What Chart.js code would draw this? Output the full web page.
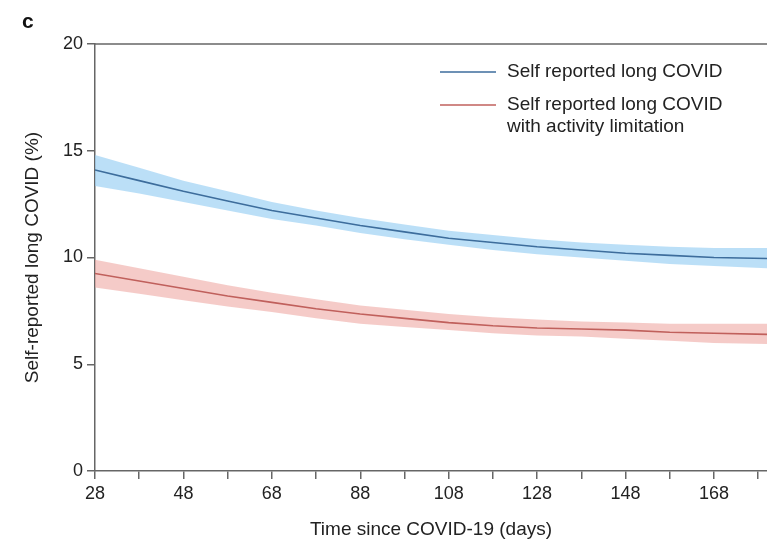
<!DOCTYPE html>
<html>
<head>
<meta charset="utf-8">
<script src="https://cdn.jsdelivr.net/npm/chart.js@4.4.1/dist/chart.umd.min.js"></script>
<style>
  html, body { margin: 0; padding: 0; background: #fff; }
  #wrap { position: relative; width: 767px; height: 543px; }
</style>
</head>
<body>
<div id="wrap"><canvas id="covidChart" width="767" height="543"></canvas></div>
<script>
// days since COVID-19
const days = [28, 38, 48, 58, 68, 78, 88, 98, 108, 118, 128, 138, 148, 158, 168, 180];

// self reported long COVID (%)
const longCovid      = [14.1, 13.6, 13.1, 12.65, 12.2, 11.85, 11.5, 11.2, 10.9, 10.7, 10.5, 10.35, 10.2, 10.1, 10.0, 9.95];
const longCovidUpper = [14.8, 14.2, 13.6, 13.1, 12.6, 12.2, 11.85, 11.55, 11.25, 11.05, 10.85, 10.7, 10.6, 10.5, 10.45, 10.45];
const longCovidLower = [13.35, 13.0, 12.6, 12.2, 11.8, 11.5, 11.15, 10.85, 10.6, 10.35, 10.15, 10.0, 9.85, 9.7, 9.6, 9.5];

// with activity limitation (%)
const limited      = [9.25, 8.9, 8.55, 8.2, 7.9, 7.6, 7.35, 7.15, 6.95, 6.8, 6.7, 6.65, 6.6, 6.5, 6.45, 6.4];
const limitedUpper = [9.9, 9.5, 9.1, 8.7, 8.35, 8.05, 7.75, 7.55, 7.35, 7.2, 7.1, 7.0, 6.95, 6.9, 6.9, 6.9];
const limitedLower = [8.6, 8.3, 8.0, 7.7, 7.45, 7.15, 6.9, 6.75, 6.6, 6.45, 6.35, 6.3, 6.2, 6.1, 6.0, 5.95];

const xTicks = [28, 38, 48, 58, 68, 78, 88, 98, 108, 118, 128, 138, 148, 158, 168, 178];
const yTicks = [0, 5, 10, 15, 20];

const legendItems = [
    { color: '#3d6d9c', lines: ['Self reported long COVID'] },
    { color: '#c0605c', lines: ['Self reported long COVID', 'with activity limitation'] }
];

const FONT = "'Liberation Sans', Arial, Helvetica, sans-serif";
const AXIS = '#666';

const pts = arr => days.map((d, i) => ({ x: d, y: arr[i] }));

const band = (data, color, fill) => ({
    data: pts(data),
    borderWidth: 0,
    pointRadius: 0,
    backgroundColor: color,
    fill: fill,
    order: 2
});

const line = (data, color) => ({
    data: pts(data),
    borderColor: color,
    borderWidth: 1.6,
    pointRadius: 0,
    fill: false,
    order: 1
});

// panel letter, top frame line and the two-line legend
const extras = {
    id: 'extras',
    afterDraw(chart) {
        const { ctx, chartArea } = chart;
        ctx.save();
        ctx.strokeStyle = AXIS;
        ctx.lineWidth = 1.5;
        ctx.beginPath();
        ctx.moveTo(chartArea.left, chartArea.top);
        ctx.lineTo(chartArea.right, chartArea.top);
        ctx.stroke();

        ctx.fillStyle = '#111';
        ctx.font = 'bold 21px ' + FONT;
        ctx.textBaseline = 'middle';
        ctx.fillText('c', 22, 22);

        ctx.font = '19px ' + FONT;
        ctx.fillStyle = '#222';
        let y = 72;
        legendItems.forEach(item => {
            ctx.strokeStyle = item.color;
            ctx.lineWidth = 1.5;
            ctx.beginPath();
            ctx.moveTo(440, y);
            ctx.lineTo(496, y);
            ctx.stroke();
            item.lines.forEach((t, k) => ctx.fillText(t, 507, y + k * 22));
            y += 33;
        });
        ctx.restore();
    }
};

new Chart(document.getElementById('covidChart'), {
    type: 'line',
    data: {
        datasets: [
            band(longCovidUpper, 'rgba(150, 206, 242, 0.65)', '+1'),
            band(longCovidLower, 'rgba(0,0,0,0)', false),
            band(limitedUpper, 'rgba(236, 160, 155, 0.55)', '+1'),
            band(limitedLower, 'rgba(0,0,0,0)', false),
            line(longCovid, '#3d6d9c'),
            line(limited, '#c0605c')
        ]
    },
    options: {
        responsive: false,
        animation: false,
        layout: { padding: { top: 44, right: 0, left: 0, bottom: 0 } },
        plugins: { legend: { display: false }, tooltip: { enabled: false } },
        scales: {
            x: {
                type: 'linear',
                min: 28,
                max: 180,
                afterBuildTicks: s => { s.ticks = xTicks.map(v => ({ value: v })); },
                afterFit: s => { s.height = 72; },
                grid: { drawOnChartArea: false, color: AXIS, tickLength: 8, lineWidth: 1.5 },
                border: { color: AXIS, width: 1.5 },
                ticks: {
                    autoSkip: false,
                    maxRotation: 0,
                    padding: 4,
                    color: '#222',
                    font: { family: FONT, size: 18 },
                    callback: v => ((v - 28) % 20 === 0 ? String(v) : '')
                },
                title: {
                    display: true,
                    text: 'Time since COVID-19 (days)',
                    color: '#222',
                    font: { family: FONT, size: 19 },
                    padding: { top: 0, bottom: 2 }
                }
            },
            y: {
                min: 0,
                max: 20,
                afterBuildTicks: s => { s.ticks = yTicks.map(v => ({ value: v })); },
                afterFit: s => { s.width = 95; },
                grid: { drawOnChartArea: false, color: AXIS, tickLength: 8, lineWidth: 1.5 },
                border: { color: AXIS, width: 1.5 },
                ticks: {
                    padding: 4,
                    color: '#222',
                    font: { family: FONT, size: 18 }
                },
                title: {
                    display: true,
                    text: 'Self-reported long COVID (%)',
                    color: '#222',
                    font: { family: FONT, size: 19 },
                    padding: { top: 21, bottom: 0 }
                }
            }
        }
    },
    plugins: [extras]
});
</script>
</body>
</html>
